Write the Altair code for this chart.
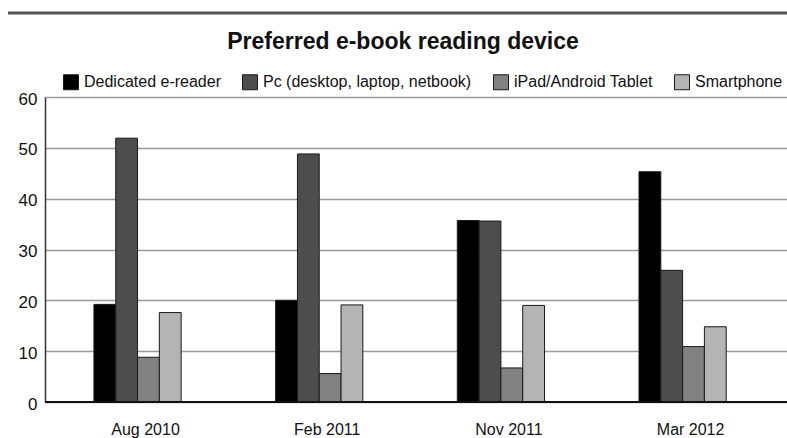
import altair as alt
import pandas as pd

# Survey periods (x categories) and device series
periods = ["Aug 2010", "Feb 2011", "Nov 2011", "Mar 2012"]
devices = [
    "Dedicated e-reader",
    "Pc (desktop, laptop, netbook)",
    "iPad/Android Tablet",
    "Smartphone",
]
ereader = [19.2, 20.0, 35.7, 45.3]
pc = [51.9, 48.8, 35.6, 25.9]
tablet = [8.8, 5.6, 6.7, 10.9]
smartphone = [17.6, 19.1, 19.0, 14.8]
y_ticks = [0, 10, 20, 30, 40, 50, 60]

series = [ereader, pc, tablet, smartphone]
rows = []
for dev, vals in zip(devices, series):
    for per, v in zip(periods, vals):
        rows.append({"period": per, "device": dev, "share": v})
df = pd.DataFrame(rows)

FONT = "Liberation Sans"
W, H = 742, 305

bars = (
    alt.Chart(df)
    .mark_bar(stroke="#1a1a1a", strokeWidth=1)
    .encode(
        x=alt.X(
            "period:N",
            sort=periods,
            scale=alt.Scale(paddingInner=0.52, paddingOuter=0.302, align=0.446),
            axis=alt.Axis(
                title=None,
                domain=False,
                ticks=False,
                labelAngle=0,
                labelFont=FONT,
                labelFontSize=16,
                labelColor="#111",
                labelPadding=19,
                labelOffset=8,
            ),
        ),
        xOffset=alt.XOffset("device:N", sort=devices, scale=alt.Scale(paddingInner=0)),
        y=alt.Y(
            "share:Q",
            scale=alt.Scale(domain=[0, 60], nice=False),
            axis=alt.Axis(
                title=None,
                values=y_ticks,
                ticks=False,
                domainColor="#333",
                domainWidth=1.5,
                gridColor="#9a9a9a",
                gridWidth=1.5,
                labelFont=FONT,
                labelFontSize=17,
                labelColor="#111",
                labelPadding=8,
                labelOffset=2,
            ),
        ),
        color=alt.Color(
            "device:N",
            sort=devices,
            scale=alt.Scale(domain=devices, range=["#000000", "#4d4d4d", "#818181", "#b4b4b4"]),
            legend=alt.Legend(
                title=None,
                orient="none",
                direction="horizontal",
                legendX=18,
                legendY=-23,
                symbolType="square",
                symbolSize=225,
                symbolStrokeColor="#1a1a1a",
                symbolStrokeWidth=1,
                symbolOpacity=1,
                labelFont=FONT,
                labelFontSize=16,
                labelColor="#111",
                labelOffset=5,
                labelLimit=400,
                columnPadding=19,
                padding=0,
            ),
        ),
    )
)

# Dark baseline at zero across the full plot width
baseline = (
    alt.Chart(pd.DataFrame({"v": [0]}))
    .mark_rule(color="#111", strokeWidth=2)
    .encode(y="v:Q")
)

# Heavy rule across the top of the figure
top_rule = (
    alt.Chart(pd.DataFrame({"v": [0]}))
    .mark_rule(color="#555", strokeWidth=3)
    .encode(x=alt.value(-37), x2=alt.value(742), y=alt.value(-84))
)

chart = (
    alt.layer(bars, baseline, top_rule)
    .properties(
        width=W,
        height=H,
        autosize=alt.AutoSizeParams(type="none"),
        padding={"left": 45, "top": 97, "right": 0, "bottom": 36},
        title=alt.TitleParams(
            text="Preferred e-book reading device",
            font=FONT,
            fontSize=23,
            fontWeight="bold",
            color="#111",
            anchor="middle",
            frame="group",
            dx=-13,
            dy=42,
            offset=0,
        ),
    )
    .configure_view(stroke=None)
    .configure(background="white")
)

chart.save("out.html", embed_options={"renderer": "svg", "actions": False})
